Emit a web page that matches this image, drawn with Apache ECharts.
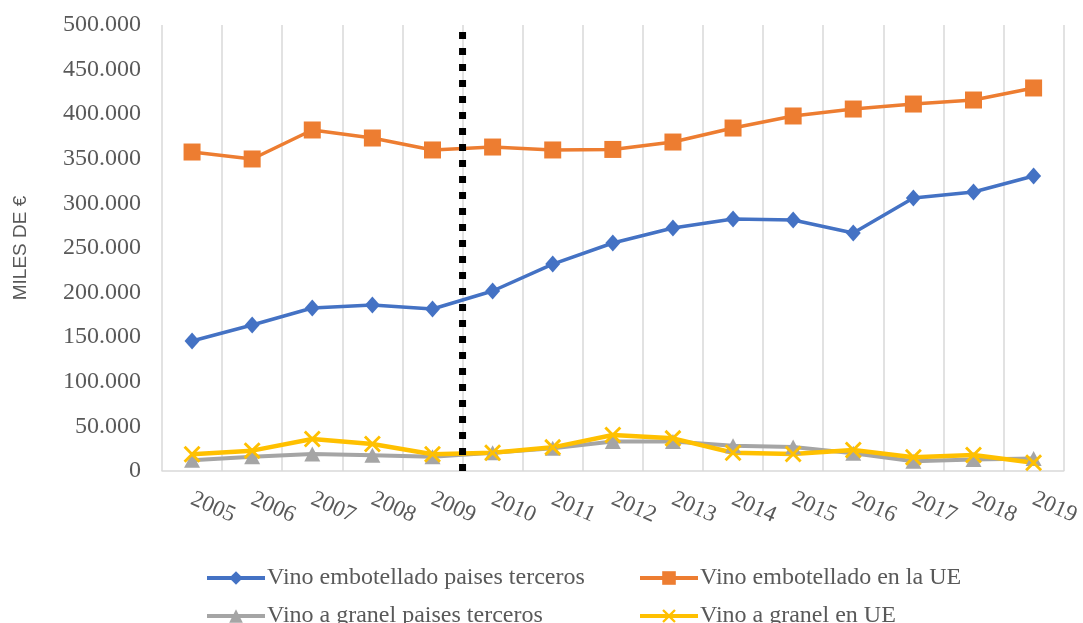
<!DOCTYPE html>
<html><head><meta charset="utf-8">
<script src="https://cdn.jsdelivr.net/npm/echarts@6/dist/echarts.min.js"></script>
<style>html,body{margin:0;padding:0;background:#fff}#c{width:1083px;height:623px}</style>
</head><body><div id="c"></div>
<script>
const years = ['2005','2006','2007','2008','2009','2010','2011','2012','2013','2014','2015','2016','2017','2018','2019'];
const embTerceros = [145700,163700,182700,186000,181600,201800,232000,255600,272400,282500,281400,266800,306000,312800,330700];
const embUE = [357600,349800,382300,373300,359900,363200,359900,360500,368800,384500,398000,405800,411400,415900,429400];
const granelTerceros = [12000,16000,19000,17600,16000,20500,25400,33000,33000,28400,27000,19800,11000,13000,14000];
const granelUE = [18700,22800,35900,30300,18700,20500,26500,40400,36600,20500,19000,23500,15400,17900,9300];
const names = ['Vino embotellado paises terceros','Vino embotellado en la UE','Vino a granel paises terceros','Vino a granel en UE'];
const dividerX = [2009.5, 2009.5];
const dividerY = [0, 500000];

const serif = "'Liberation Serif','Times New Roman',serif";
const txt = '#595959';
const xPath = 'path://M0,1.2L1.2,0L5,3.8L8.8,0L10,1.2L6.2,5L10,8.8L8.8,10L5,6.2L1.2,10L0,8.8L3.8,5Z';
const chart = echarts.init(document.getElementById('c'));
const leg = (name, left, top) => ({
  data:[name], left:left, top:top, itemWidth:58, itemHeight:17, itemGap:0,
  lineStyle:{width:4},
  textStyle:{fontFamily:serif, fontSize:24, color:txt, padding:[0,0,0,-3]}
});
chart.setOption({
  animation:false,
  grid:{left:162, right:18, top:25, bottom:152, containLabel:false},
  legend:[leg(names[0],200,561), leg(names[1],633,561), leg(names[2],200,599), leg(names[3],633,599)],
  xAxis:[{
    type:'category', data:years, boundaryGap:true,
    axisLine:{lineStyle:{color:'#d9d9d9', width:1.5}},
    axisTick:{show:false, interval:0},
    splitLine:{show:true, interval:0, lineStyle:{color:'#d9d9d9', width:1.5}},
    axisLabel:{interval:0, rotate:-24, margin:27, fontFamily:serif, fontSize:23, color:txt}
  },{
    type:'value', min:2004.5, max:2019.5, show:false
  }],
  yAxis:{
    type:'value', min:0, max:500000, interval:50000,
    name:'MILES DE €', nameLocation:'middle', nameGap:132, nameRotate:90,
    nameTextStyle:{fontFamily:"'Liberation Sans',Arial,sans-serif", fontSize:19, color:txt},
    axisLine:{show:false}, axisTick:{show:false}, splitLine:{show:false},
    axisLabel:{margin:21, fontFamily:serif, fontSize:24, color:txt,
      formatter:v => v === 0 ? '0' : (v/1000) + '.000'}
  },
  series:[
    {name:names[0], type:'line', data:embTerceros, symbol:'diamond', symbolSize:[15,17],
      lineStyle:{color:'#4472C4', width:3.5}, itemStyle:{color:'#4472C4'}, z:3},
    {name:names[1], type:'line', data:embUE, symbol:'rect', symbolSize:17,
      lineStyle:{color:'#ED7D31', width:3.5}, itemStyle:{color:'#ED7D31'}, z:3},
    {name:names[2], type:'line', data:granelTerceros, symbol:'triangle', symbolSize:[16,15],
      lineStyle:{color:'#A5A5A5', width:4}, itemStyle:{color:'#A5A5A5'}, z:3},
    {name:names[3], type:'line', data:granelUE, symbol:xPath, symbolSize:17,
      lineStyle:{color:'#FFC000', width:4.5}, itemStyle:{color:'#FFC000'}, z:3},
    {name:'divider', type:'line', xAxisIndex:1, data:dividerX.map((x,i)=>[x,dividerY[i]]),
      symbol:'none', silent:true, z:4,
      lineStyle:{color:'#000', width:7, type:[7,9]}}
  ]
});
</script></body></html>
